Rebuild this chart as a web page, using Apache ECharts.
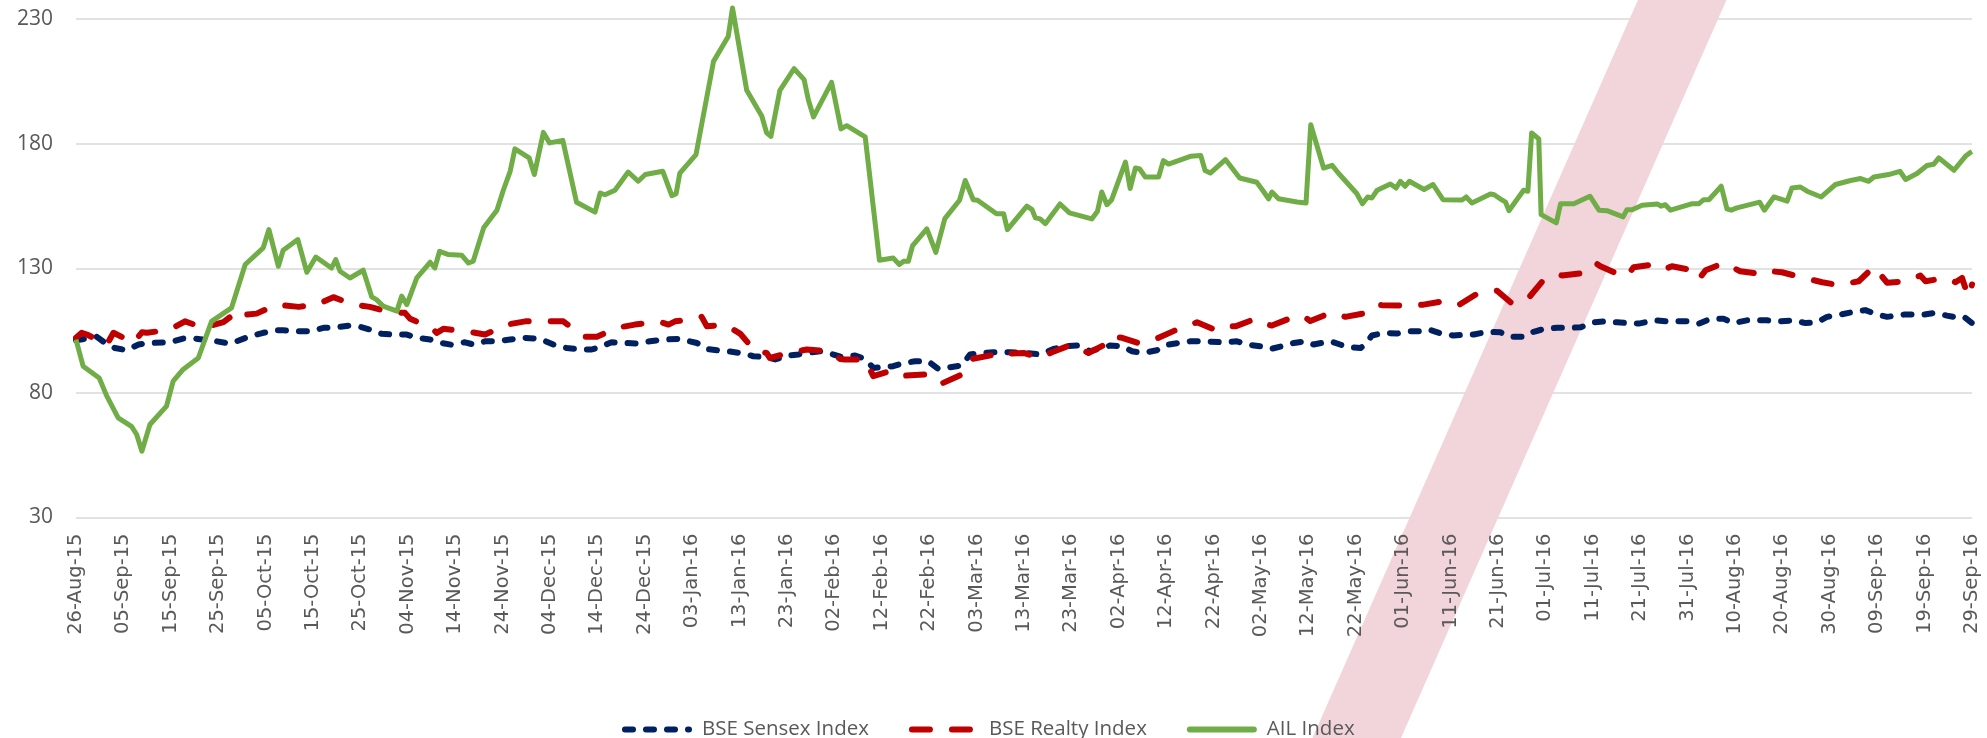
<!DOCTYPE html>
<html>
<head>
<meta charset="utf-8">
<script src="https://cdn.jsdelivr.net/npm/echarts@6/dist/echarts.min.js"></script>
<style>
html,body{margin:0;padding:0;background:#fff;}
#chart{width:1987px;height:738px;}
</style>
</head>
<body>
<div id="chart"></div>
<script>
// x values are days since 26-Aug-15
const tickLabels = ['26-Aug-15','05-Sep-15','15-Sep-15','25-Sep-15','05-Oct-15','15-Oct-15','25-Oct-15','04-Nov-15','14-Nov-15','24-Nov-15','04-Dec-15','14-Dec-15','24-Dec-15','03-Jan-16','13-Jan-16','23-Jan-16','02-Feb-16','12-Feb-16','22-Feb-16','03-Mar-16','13-Mar-16','23-Mar-16','02-Apr-16','12-Apr-16','22-Apr-16','02-May-16','12-May-16','22-May-16','01-Jun-16','11-Jun-16','21-Jun-16','01-Jul-16','11-Jul-16','21-Jul-16','31-Jul-16','10-Aug-16','20-Aug-16','30-Aug-16','09-Sep-16','19-Sep-16','29-Sep-16'];

const seriesNames = ['BSE Sensex Index','BSE Realty Index','AIL Index'];

const sensexDays = [0,4.4,6.1,8.2,10.7,13.2,15.3,19.8,22.6,25.1,29.7,32.5,33.9,36.7,39.5,42.3,43.7,46.6,49.4,52.2,55,57.8,59.9,62,64.5,66.9,69.8,71.9,74.7,76.8,79.3,82.1,83.8,86.3,88.7,91.6,94.4,97.9,100.7,103.5,106.3,108.8,110.9,113,116.2,118.3,121.1,123.9,127.4,131,133.1,135.9,138,140.8,142.9,145.7,147.5,150.3,152.4,155.2,157,159.4,161.5,164.4,166.5,168.2,170.3,172.4,174.2,177,179.8,181.9,184.4,186.9,188.6,190.7,193.5,197.1,200.6,203.4,206.2,208.7,211.2,214,216.1,218.2,220.7,222.8,225.2,228,230.5,235.1,237.9,242.1,244.9,247,249.8,252,254.4,256.9,259.3,261.1,264.6,266.7,268.8,271,272,273.4,275.9,278.7,281.5,283.6,285.4,288.2,290.6,293.1,294.9,297.7,300.5,302.6,305.4,307.5,310,312.5,315.3,317.4,320.2,322.3,325.1,327.9,329.7,332.9,335.7,339.9,342.4,344.8,347.6,349.7,352.5,356.8,359.6,362.4,364.9,367.3,369.4,372.2,374.7,377.5,380,382.1,385.6,389.8,392.3,394.7,397.2,398.3,400];
const sensexValues = [101.1,102.5,100.1,98.0,97.1,99.4,100.0,100.3,101.8,101.8,100.7,99.8,100.7,102.7,104.1,105.1,105.1,104.7,104.7,106.1,106.3,107.0,106.5,105.4,103.7,103.4,103.4,102.1,101.4,100.1,99.3,100.3,99.4,100.7,100.7,101.4,102.1,101.7,99.4,98.0,97.4,97.4,98.7,100.3,100.0,99.8,100.7,101.4,101.7,100.0,97.6,97.0,96.6,95.8,94.7,94.4,93.4,95.0,95.4,96.3,96.7,95.6,94.4,95.0,93.6,90.0,90.4,90.7,91.8,92.7,92.7,89.6,90.3,91.0,95.4,96.0,96.3,96.3,96.0,95.4,97.6,98.7,99.0,96.7,98.0,99.0,98.7,96.7,96.0,97.1,99.4,100.7,100.7,100.3,100.7,99.4,98.7,97.6,98.7,100.0,100.7,99.4,100.7,99.4,98.3,98.0,99.4,103.0,104.1,103.8,104.7,104.7,105.4,103.7,103.0,103.4,103.4,104.5,104.3,102.5,102.5,104.5,105.8,106.1,106.1,106.3,108.3,108.7,108.3,108.0,107.8,109.1,108.7,108.7,107.8,109.7,109.7,108.0,109.1,109.1,108.7,109.1,108.0,108.3,110.5,111.4,112.4,113.2,111.4,110.5,111.4,111.4,112.1,111.0,110.1,110.5,108.0];

const realtyDays = [0,1.2,2.3,6.5,7.9,12.1,13.9,15,19.8,23,26.9,31.1,34.6,36,38.1,42.3,47,50.8,54.3,58.5,62,66.2,69.4,70.5,75,76.1,77.5,82.4,86.3,90.9,94.8,99.3,102.8,106,107.4,109.9,114.1,117.9,122.9,125,126.4,130.9,132,133.1,136.9,140.1,143.3,145.7,146.4,150.3,154.2,159.1,161.2,162.2,166.5,168.2,171.7,173.5,174.9,179.5,180.9,182.6,186.9,189,193.9,195.3,197.4,199.9,203.4,205.9,210.1,213.6,217.1,218.2,220.7,224.5,228.4,232.6,236.5,240.7,243.2,244.6,248.8,251.3,252.3,256.9,259,260.4,264.6,267.8,272.3,274.5,275.5,280.4,284.3,288.5,291.7,295.6,299.8,303,306.5,309.7,312.8,313.5,318.1,320.6,321.6,325.5,327.2,328.6,332.9,335,336.7,341,342.4,343.8,347.6,351.1,356.1,357.5,359.9,364.5,368.4,371.9,376.1,379.3,382.1,386.3,389.1,390.2,394.4,396.5,397.9,399.2,400];
const realtyValues = [102.1,104.1,103.4,99.4,104.1,100.1,104.3,104.1,105.4,108.7,106.1,108.4,113.4,111.4,111.8,115.4,114.5,115.4,118.4,115.4,114.5,112.4,112.1,109.7,106.1,104.1,105.7,104.7,103.4,107.4,108.7,108.7,108.7,104.1,102.5,102.5,106.1,107.4,108.7,107.4,108.7,109.7,110.5,106.7,107.4,103.8,96.7,96.0,94.0,96.0,97.4,96.7,93.6,93.4,93.4,86.7,88.7,86.7,86.9,87.4,86.0,83.7,87.4,93.6,95.4,96.7,95.8,96.0,94.0,96.3,99.4,96.0,99.4,102.5,102.1,99.8,102.1,105.7,108.3,105.0,106.7,106.7,109.7,107.4,107.0,110.5,110.8,108.8,112.1,110.5,112.1,115.4,115.2,115.0,115.4,116.8,115.2,119.8,121.0,115.8,118.2,125.5,127.5,127.1,128.1,132.1,130.8,127.5,126.8,130.4,131.5,129.5,130.8,129.2,125.7,129.2,132.1,128.8,127.5,128.8,128.4,126.1,124.4,123.2,124.8,130.6,124.2,124.8,127.1,124.8,126.1,124.4,126.1,118.6,123.5];

const ailDays = [0,1.5,4.9,6.5,8.9,11.7,12.8,13.9,15.6,19.1,20.5,22.6,25.8,28.6,32.8,35.7,39.5,40.7,42.7,43.7,46.8,48.7,50.6,53.9,54.8,55.7,57.8,60.6,62.4,63.4,64.8,67.7,68.7,69.8,71.9,74.7,75.7,76.7,78.6,81.4,82.8,83.8,86,88.8,90.2,91.6,92.6,95.6,96.7,98.6,99.9,102.7,105.6,109.5,110.6,111.6,113.7,116.5,118.6,120.1,123.8,125.7,126.6,127.4,130.8,134.5,137.6,138.5,141.5,144.7,145.7,146.6,148.5,151.5,153.6,154.5,155.6,159.4,161.4,162.6,166.5,169.5,172.4,173.7,174.6,175.6,176.5,179.5,181.4,183.3,186.4,187.6,189.3,190.2,194.2,195.7,196.5,200.6,201.7,202.4,203.4,204.5,207.6,209.6,214.3,215.5,216.4,217.5,218.5,221.4,222.4,223.5,224.4,225.6,228.4,229.4,230.5,235.1,237.3,238.2,239.3,242.5,245.5,249.1,250.5,251.6,252.3,253.7,257.6,259.5,260.5,263.2,265,266.4,270.2,271.4,272.5,273.4,274.5,277.3,278.5,279.4,280.4,281.3,284.4,286.3,288.4,292.4,293.3,294.5,298.4,299.2,300.9,301.6,302.3,305.4,306.3,307.1,308.6,309.1,312.3,313.2,316,319.4,321.3,323,326.4,327.2,328.3,330.4,333.6,334.4,335.3,336.4,341,342.4,343.4,344.5,347.1,348.3,349.2,350.4,355.2,356.2,358.2,361,362,363.8,365.2,368.2,371.2,374.4,376.5,378.2,379.3,382.4,384.8,386,388.4,390.5,391.9,393,396.2,398.6,399.7,400];
const ailValues = [101.4,90.7,86.0,78.7,70.0,66.6,63.3,56.6,67.3,74.7,84.7,89.4,94.0,108.7,114.1,131.5,138.2,145.5,130.8,137.2,141.5,128.4,134.5,130.1,133.5,128.8,126.1,129.2,118.5,117.4,114.8,112.8,118.8,115.4,126.1,132.4,130.1,136.8,135.5,135.2,132.1,132.8,146.2,153.3,161.6,168.9,177.9,174.3,167.6,184.5,180.3,181.3,156.5,152.5,160.2,159.5,161.3,168.6,164.9,167.6,168.9,159.1,159.9,168.2,175.6,213.0,223.0,234.4,201.4,191.0,184.3,182.9,201.4,210.1,205.7,197.6,190.7,204.6,185.9,187.2,182.7,133.2,134.1,131.5,132.8,132.8,139.1,145.8,136.4,149.9,157.3,165.2,157.5,157.3,151.9,151.9,145.5,154.9,153.5,150.2,149.8,147.9,155.8,152.2,149.8,152.9,160.6,155.5,157.5,172.6,162.0,170.2,169.8,166.6,166.6,173.2,171.8,174.9,175.2,169.2,168.2,173.6,166.2,164.5,160.9,157.8,160.6,157.9,156.6,156.2,187.6,170.2,171.3,168.0,160.0,155.9,158.6,158.2,161.3,163.8,162.2,164.9,162.9,164.9,161.6,163.6,157.5,157.4,158.6,156.2,159.8,159.5,157.3,156.5,153.1,161.3,160.9,184.3,181.9,151.5,148.2,155.9,155.9,158.9,153.3,153.1,150.6,153.5,153.5,155.3,155.8,154.9,155.5,153.3,155.9,155.9,157.5,157.5,162.9,153.8,153.3,154.2,156.5,153.3,158.6,156.9,162.2,162.6,160.9,158.6,163.6,165.2,166.0,164.9,166.6,167.6,168.9,165.6,168.0,171.2,171.7,174.3,169.3,174.9,176.5,176.8];

const yMin = 30, yMax = 230, yStep = 50;
const xMin = 0, xMax = 400, xStep = 10;

function pairs(xs, ys) { return xs.map((x, i) => [x, ys[i]]); }

const chart = echarts.init(document.getElementById('chart'), null, {renderer: 'canvas'});
chart.setOption({
  animation: false,
  backgroundColor: '#ffffff',
  grid: {left: 76, right: 15, top: 19, bottom: 220.5, containLabel: false},
  xAxis: {
    type: 'value', min: xMin, max: xMax, interval: xStep, z: 3,
    axisLine: {show: false}, axisTick: {show: false}, splitLine: {show: false},
    axisLabel: {
      rotate: 90, margin: 16, color: '#595959', fontFamily: 'DejaVu Sans', fontSize: 19.5,
      showMinLabel: true, showMaxLabel: true,
      formatter: v => tickLabels[Math.round(v / xStep)] || ''
    }
  },
  yAxis: {
    type: 'value', min: yMin, max: yMax, interval: yStep, z: 0,
    axisLine: {show: false}, axisTick: {show: false},
    splitLine: {lineStyle: {color: '#d9d9d9', width: 1.5}},
    axisLabel: {margin: 23, color: '#595959', fontFamily: "'Open Sans', sans-serif", fontSize: 21}
  },
  legend: {
    left: 617, top: 714, itemWidth: 64, itemHeight: 14, itemGap: 40,
    itemStyle: {opacity: 0},
    lineStyle: {width: 6, cap: 'round'},
    textStyle: {color: '#595959', fontFamily: "'Open Sans', sans-serif", fontSize: 20.5, padding: [0, 0, 0, 8]},
    data: seriesNames
  },
  graphic: [{
    type: 'line', z: 1, silent: true,
    shape: {x1: 1347, y1: 760, x2: 1691, y2: -20},
    style: {stroke: '#f2d4db', lineWidth: 81}
  }],
  series: [
    {
      name: seriesNames[0], type: 'line', symbol: 'none', clip: false, z: 3,
      data: pairs(sensexDays, sensexValues),
      lineStyle: {color: '#002060', width: 6, type: [8, 13], cap: 'round', join: 'round'},
      itemStyle: {color: '#002060'}
    },
    {
      name: seriesNames[1], type: 'line', symbol: 'none', clip: false, z: 4,
      data: pairs(realtyDays, realtyValues),
      lineStyle: {color: '#C00000', width: 6, type: [18, 22], cap: 'round', join: 'round'},
      itemStyle: {color: '#C00000'}
    },
    {
      name: seriesNames[2], type: 'line', symbol: 'none', clip: false, z: 5,
      data: pairs(ailDays, ailValues),
      lineStyle: {color: '#70AD47', width: 5, join: 'round'},
      itemStyle: {color: '#70AD47'}
    }
  ]
});
</script>
</body>
</html>
